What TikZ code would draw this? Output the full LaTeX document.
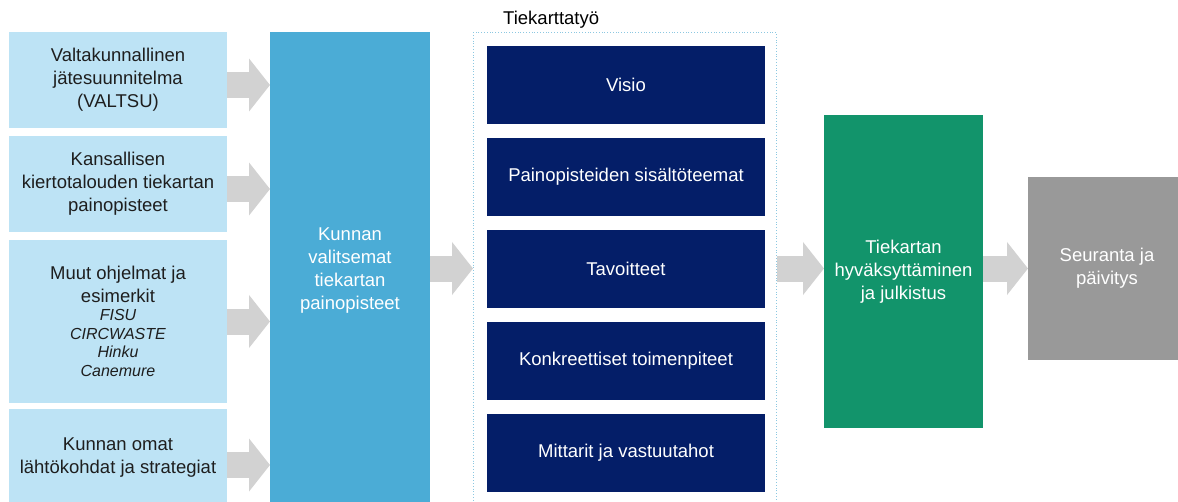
\documentclass[tikz,border=0pt]{standalone}
\usepackage{fontspec}
\setmainfont{Liberation Sans}
\usepackage{tikz}
\usetikzlibrary{arrows.meta,positioning}

\definecolor{lightbox}{RGB}{189,227,245}
\definecolor{srctext}{RGB}{30,30,30}
\definecolor{midblue}{RGB}{75,172,214}
\definecolor{navybox}{RGB}{4,30,104}
\definecolor{greenbox}{RGB}{18,148,107}
\definecolor{graybox}{RGB}{153,153,153}
\definecolor{arrowgray}{RGB}{210,210,210}
\definecolor{framecol}{RGB}{140,200,225}
\newcommand\smit{\fontsize{16}{19}\selectfont\itshape}

\begin{document}
\begin{tikzpicture}[x=1pt,y=-1pt,font=\fontsize{18.5}{23}\selectfont,
  src node/.style={rectangle,fill=lightbox,text=srctext,align=center,
    minimum width=218pt,inner sep=0pt,outer sep=0pt},
  step node/.style={rectangle,fill=navybox,text=white,minimum width=278pt,
    minimum height=78pt,inner sep=0pt,outer sep=0pt},
  big node/.style={rectangle,text=white,align=center,inner sep=0pt,outer sep=0pt,
    anchor=north west},
  flow/.style={draw=arrowgray,line width=26pt,-{Triangle[length=21pt,width=52pt]}}]
  \path[use as bounding box,clip] (0,0) rectangle (1178,501);
  % sources
  \node[src node,minimum height=96pt]  (l1) at (118,80) {Valtakunnallinen\\jätesuunnitelma\\(VALTSU)};
  \node[src node,minimum height=96pt]  (l2) [below=8pt of l1] {Kansallisen\\kiertotalouden tiekartan\\painopisteet};
  \node[src node,minimum height=163pt] (l3) [below=8pt of l2] {Muut ohjelmat ja\\esimerkit\\[-5pt]\smit FISU\\[-4pt]\smit CIRCWASTE\\[-5pt]\smit Hinku\\[-4pt]\smit Canemure};
  \node[src node,minimum height=98pt]  (l4) [below=6pt of l3] {Kunnan omat\\lähtökohdat ja strategiat};
  \node[big node,fill=midblue,minimum width=160pt,minimum height=478pt] (kunta) at (270,32) {Kunnan\\valitsemat\\tiekartan\\painopisteet};
  % roadmap work
  \node[draw=framecol,dotted,line width=0.8pt,minimum width=303pt,minimum height=475pt,
    anchor=north west,inner sep=0pt] (tk) at (473,32) {};
  \node[inner sep=0pt] (tklabel) [above right=3pt and 30pt of tk.north west] {Tiekarttatyö};
  \node[step node] (visio)  at (626,85) {Visio};
  \node[step node] (teemat) [below=14pt of visio]  {Painopisteiden sisältöteemat};
  \node[step node] (tavoit) [below=14pt of teemat] {Tavoitteet};
  \node[step node] (toimet) [below=14pt of tavoit] {Konkreettiset toimenpiteet};
  \node[step node] (mitt)   [below=14pt of toimet] {Mittarit ja vastuutahot};
  \node[big node,fill=greenbox,minimum width=159pt,minimum height=313pt] (hyv) at (824,115) {Tiekartan\\hyväksyttäminen\\ja julkistus};
  \node[big node,fill=graybox,minimum width=158pt,minimum height=183pt] (seur) at (1028,177) {Seuranta ja\\päivitys};

  \coordinate (a1) at ([yshift=-5pt]l1.east);
  \coordinate (a2) at ([yshift=-5pt]l2.east);
  \coordinate (a3) at (l3.east);
  \coordinate (a4) at ([yshift=-7pt]l4.east);

  \path[every edge/.style=flow]
    (a1) edge (a1 -| kunta.west)
    (a2) edge (a2 -| kunta.west)
    (a3) edge (a3 -| kunta.west)
    (a4) edge (a4 -| kunta.west)
    (kunta.east |- seur) edge (tk.west |- seur)
    (tk.east |- seur) edge (hyv.west |- seur)
    (hyv.east |- seur) edge (seur.west);
\end{tikzpicture}
\end{document}
